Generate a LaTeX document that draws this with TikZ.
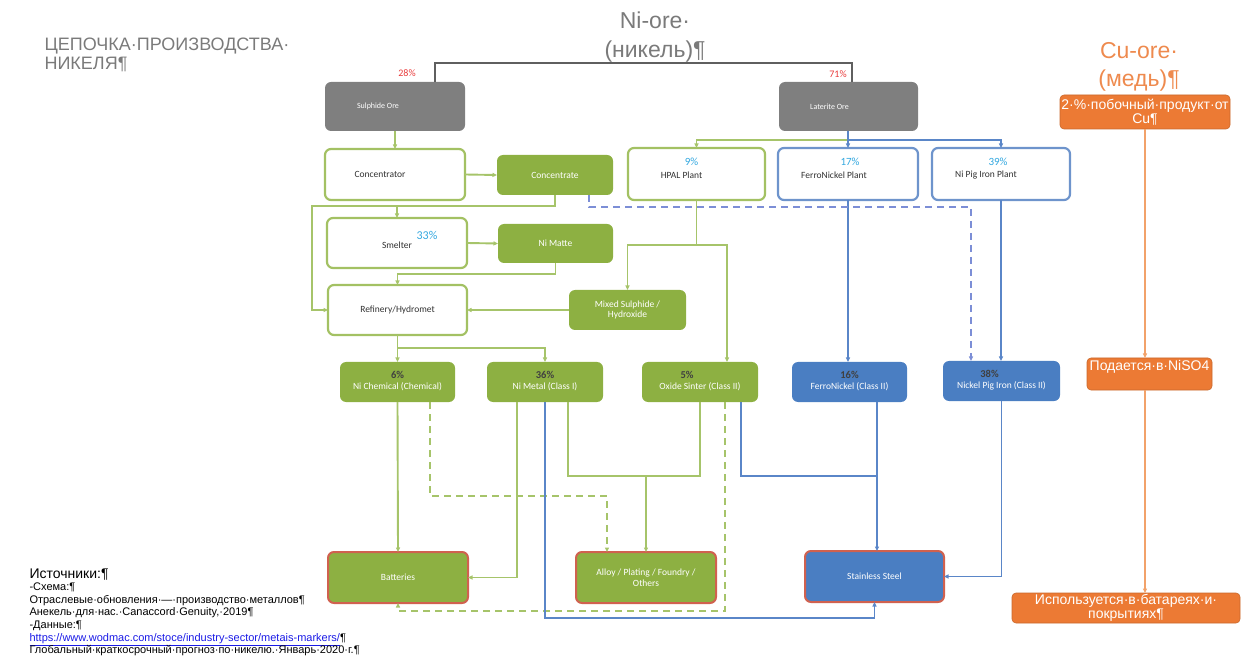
\documentclass[tikz,border=0pt]{standalone}
\usepackage{fontspec}
\setmainfont{Liberation Sans}
\newfontfamily\boxfont{Carlito}
\usetikzlibrary{arrows.meta}
\definecolor{gfill}{HTML}{8DB042}
\definecolor{glinec}{HTML}{A6C46A}
\definecolor{gbord}{HTML}{A3C163}
\definecolor{bfill}{HTML}{4A7EC2}
\definecolor{bbord}{HTML}{6E94CC}
\definecolor{blnc}{HTML}{5A86C8}
\definecolor{bdsh}{HTML}{7C8ED6}
\definecolor{rbord}{HTML}{D0614F}
\definecolor{ofill}{HTML}{EC7A34}
\definecolor{olnc}{HTML}{F2A26A}
\definecolor{otxt}{HTML}{EE8A4E}
\definecolor{gybox}{HTML}{7F7F7F}
\definecolor{gyln}{HTML}{5F5F5F}
\definecolor{gytxt}{HTML}{7A7A7A}
\definecolor{pblue}{HTML}{33A8E0}
\definecolor{pred}{HTML}{E83A3A}
\definecolor{linkc}{HTML}{1A1AE6}
\tikzset{
  bx/.style n args={2}{minimum width=#1pt, minimum height=#2pt},
  base/.style={rounded corners=6pt, inner sep=0pt, outer sep=0pt, align=center},
  graybox/.style={base, fill=gybox},
  wgbox/.style={base, fill=white, draw=gbord, line width=2.2pt},
  wbbox/.style={base, fill=white, draw=bbord, line width=2.2pt},
  gbox/.style={base, fill=gfill},
  bbox/.style={base, fill=bfill},
  gredbox/.style={base, fill=gfill, draw=rbord, line width=2pt},
  bredbox/.style={base, fill=bfill, draw=rbord, line width=2pt},
  obox/.style={base, fill=ofill, draw=ofill!85!black, line width=0.6pt, rounded corners=4pt},
  otext/.style={text=white, align=center, font=\fontsize{14}{14.5}\selectfont},
  tw/.style={text=white, font=\boxfont\fontsize{9.5}{10.5}\selectfont},
  td/.style={text=black!80, font=\boxfont\fontsize{9.5}{10.5}\selectfont},
  lw/.style={tw, align=center},
  ld/.style={td},
  lg/.style={text=white, font=\boxfont\fontsize{8}{9}\selectfont},
  pc/.style={text=pblue, font=\boxfont\fontsize{11}{12}\selectfont},
  pk/.style={text=black!75, font=\boxfont\bfseries\fontsize{10.5}{11}\selectfont},
  pr/.style={text=pred, font=\boxfont\fontsize{10}{11}\selectfont},
  gl/.style={draw=glinec, line width=1.9pt},
  gd/.style={gl, dash pattern=on 7pt off 5pt},
  bl/.style={draw=blnc, line width=1.9pt},
  bd/.style={draw=bdsh, line width=1.9pt, dash pattern=on 7pt off 5pt},
  gyl/.style={draw=gyln, line width=2pt},
  ol/.style={draw=olnc, line width=1.5pt},
}
\begin{document}
\begin{tikzpicture}[x=1pt,y=-1pt,>={Triangle[length=4.5pt,width=4pt]}]
\path[use as bounding box] (0,0) rectangle (1248,660);

% titles
\node[anchor=north west, align=left, text=gytxt, font=\fontsize{18}{19.5}\selectfont] (title) at (41,34) {ЦЕПОЧКА·ПРОИЗВОДСТВА·\\НИКЕЛЯ¶};
\node[align=center, text=gytxt, font=\fontsize{23}{29}\selectfont] (ni) at (655,37) {Ni-ore·\\(никель)¶};
\node[align=center, text=otxt, font=\fontsize{23}{28}\selectfont] (cu) at (1139,67) {Cu-ore·\\(медь)¶};

% ore boxes
\node[graybox,bx={140}{49},label={[lg,xshift=-17pt]center:Sulphide Ore}] (sul) at (395,106.5) {};
\node[graybox,bx={139}{49},label={[lg,xshift=-19pt]center:Laterite Ore}] (lat) at (848.5,106.5) {};
\node[pr] (p28) at (407,73) {28\%};
\node[pr] (p71) at (838,74) {71\%};
\coordinate (top) at (640,63);
\draw[gyl] ([xshift=40pt]sul.north) |- (top) -| ([xshift=3.5pt]lat.north);

% sulphide chain
\node[wgbox,bx={140}{51},label={[ld,xshift=-15pt]center:Concentrator}] (conc) at (395,174.5) {};
\node[gbox,bx={116}{40},tw] (cnt) at (555,175) {Concentrate};
\node[wgbox,bx={140}{50},label={[ld,yshift=-2pt]center:Smelter},label={[text=pblue,font=\boxfont\fontsize{12}{13}\selectfont,xshift=30pt,yshift=8pt]center:33\%}] (smel) at (397,243) {};
\node[gbox,bx={115}{39},tw] (mat) at (555.5,243.5) {Ni Matte};
\node[wgbox,bx={139}{50},td] (ref) at (397.5,310) {Refinery/Hydromet};
\node[gbox,bx={117}{40},tw] (mix) at (627.5,310) {Mixed Sulphide /\\Hydroxide};

% laterite plants
\node[wgbox,bx={137}{52},label={[ld,xshift=-15pt,yshift=-1pt]center:HPAL Plant},label={[pc,xshift=-5pt,yshift=12pt]center:9\%}] (hpal) at (696.5,174) {};
\node[wbbox,bx={140}{52},label={[ld,xshift=-14pt,yshift=-1pt]center:FerroNickel Plant},label={[pc,xshift=2pt,yshift=12pt]center:17\%}] (fer) at (848,174) {};
\node[wbbox,bx={138}{52},label={[ld,xshift=-15pt,yshift=-1pt]center:Ni Pig Iron Plant},label={[pc,xshift=-3pt,yshift=12pt]center:39\%}] (npp) at (1001,174) {};

% products
\node[gbox,bx={115}{40},label={[lw,yshift=-4.5pt]center:Ni Chemical (Chemical)},label={[pk,yshift=7.5pt]center:6\%}] (chem) at (397.5,382) {};
\node[gbox,bx={116}{40},label={[lw,yshift=-4.5pt]center:Ni Metal (Class I)},label={[pk,yshift=7.5pt]center:36\%}] (met) at (545,382) {};
\node[gbox,bx={116}{40},label={[lw,yshift=-4.5pt]center:Oxide Sinter (Class II)},label={[pk,xshift=-13pt,yshift=7.5pt]center:5\%}] (oxi) at (700,382) {};
\node[bbox,bx={115}{40},label={[lw,yshift=-4.5pt]center:FerroNickel (Class II)},label={[pk,yshift=7.5pt]center:16\%}] (fep) at (849.5,382) {};
\node[bbox,bx={117}{40},label={[lw,yshift=-4.5pt]center:Nickel Pig Iron (Class II)},label={[pk,xshift=-12pt,yshift=7.5pt]center:38\%}] (npi) at (1001.5,381) {};

% end uses
\node[gredbox,bx={140}{51},tw] (bat) at (398,577.5) {Batteries};
\node[gredbox,bx={140}{51},tw] (alloy) at (646,577.5) {Alloy / Plating / Foundry /\\Others};
\node[bredbox,bx={139}{51},tw] (ss) at (874.5,576.5) {Stainless Steel};

% copper boxes
\node[obox,bx={170}{34},otext] (cu2) at (1145,112) {2·\%·побочный·продукт·от\\Cu¶};
\node[obox,bx={125}{32},label={[otext,yshift=7pt]center:Подается·в·NiSO4}] (niso) at (1149.5,374) {};
\node[obox,bx={228}{30},otext] (use) at (1126,608) {Используется·в·батареях·и·\\покрытиях¶};

% sources
\node[anchor=north west, align=left, font=\fontsize{11}{12.6}\selectfont] (src) at (26,565) {{\fontsize{14}{13}\selectfont Источники:¶}\\-Схема:¶\\Отраслевые·обновления·—·производство·металлов¶\\Анекель·для·нас.·Canaccord·Genuity,·2019¶\\-Данные:¶\\{\color{linkc}\underline{https://www.wodmac.com/stoce/industry-sector/metais-markers/}}¶\\Глобальный·краткосрочный·прогноз·по·никелю.·Январь·2020·г.¶};

% coordinates
\coordinate (h1) at (312,206);
\coordinate (h2) at (397,274);
\coordinate (h3) at (849,140);
\coordinate (h4) at (696.5,245);
\coordinate (h5) at (397.5,348);
\coordinate (h6) at (780,207);
\coordinate (h7) at (500,496);
\coordinate (h8) at (646,476);
\coordinate (h9) at (700,618);
\coordinate (h10) at (560,611);
\coordinate (fo) at ([xshift=27.5pt]fep.south);
\coordinate (ob) at ([xshift=41pt]oxi.south);

% green connectors
\draw[gl,->] (sul.south -| conc.north) -- (conc.north);
\draw[gl,->] (conc.east) -- (cnt.west);
\draw[gl,->] (cnt.south) |- (h1) |- (ref.west);
\draw[gl,->] (h1 -| smel.north) -- (smel.north);
\draw[gl,->] (smel.east) -- (mat.west);
\draw[gl,->] (mat.south) |- (h2 -| ref.north) -- (ref.north);
\draw[gl,->] (mix.west) -- (ref.east);
\draw[gl,->] (h3) -| (hpal.north);
\draw[gl,->] (hpal.south) -- (h4) -| (mix.north);
\draw[gl,->] (h4) -| ([xshift=27pt]oxi.north);
\draw[gl,->] (ref.south) -- (chem.north);
\draw[gl,->] (h5) -| (met.north);
\draw[gl,->] (chem.south) -- (bat.north);
\draw[gl,->] ([xshift=-28pt]met.south) |- (bat.east);
\draw[gl] ([xshift=23pt]met.south) |- (h8);
\draw[gl] (oxi.south) |- (h8);
\draw[gl,->] (h8) -- (alloy.north);
\draw[gd,->] ([xshift=32.5pt]chem.south) |- (h7) -| ([xshift=-39pt]alloy.north);
\draw[gd,->] ([xshift=25pt]oxi.south) |- (h10) -| (bat.south);

% blue connectors
\draw[bl,->] (lat.south -| fer.north) -- (fer.north);
\draw[bl,->] (h3) -| (npp.north);
\draw[bl,->] (fer.south) -- (fep.north -| fer.south);
\draw[bl,->] (npp.south) -- (npi.north -| npp.south);
\draw[bd,->] ([xshift=34pt]cnt.south) |- (h6) -| ([xshift=-30.5pt]npi.north);
\draw[bl,->] (fo) -- (fo |- ss.north);
\draw[bl] (ob) |- (fo |- h8);
\draw[bl,->] (met.south) |- (h9) -| (ss.south);
\draw[bl,->] (npi.south) |- (ss.east);

% orange connectors
\draw[ol,->] (cu2.south) -- (cu2.south |- niso.north);
\draw[ol,->] (cu2.south |- niso.south) -- (cu2.south |- use.north);
\end{tikzpicture}
\end{document}
